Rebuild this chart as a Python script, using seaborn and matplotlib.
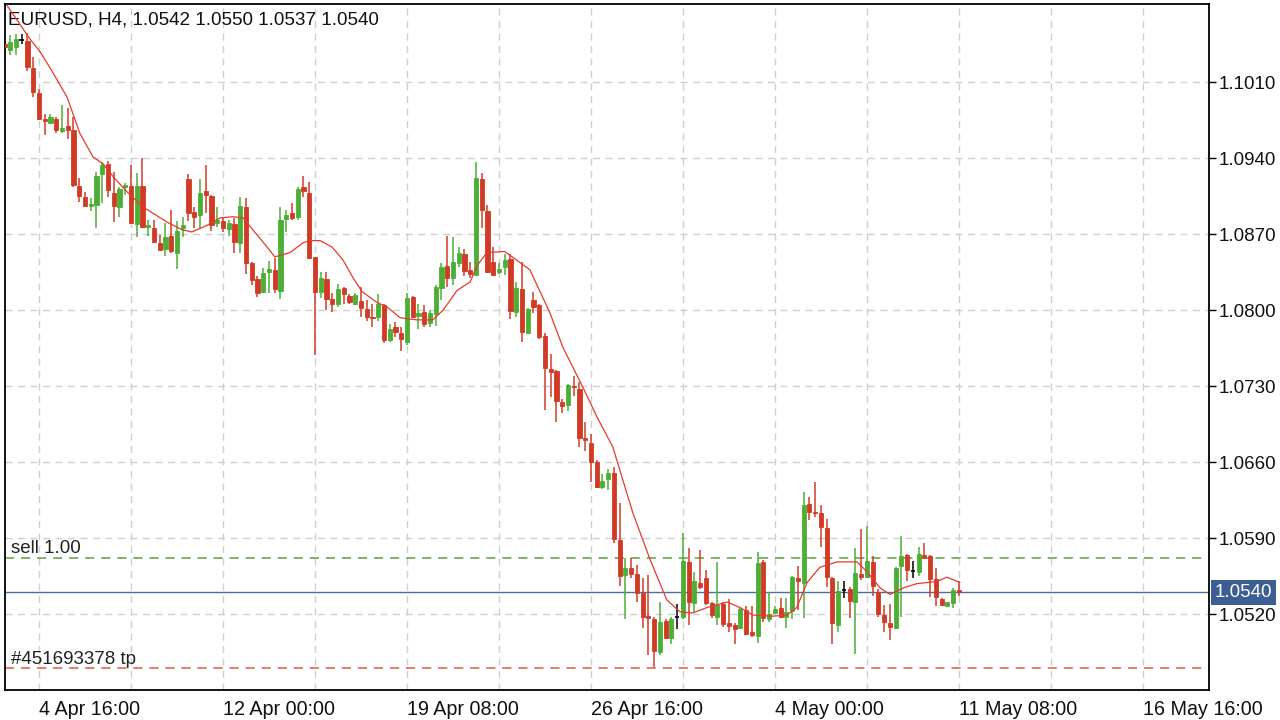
import pandas as pd
import seaborn as sns
import matplotlib.pyplot as plt

# H4 candles (bar index 0 = left edge)
opens = [
    1.1045, 1.1040, 1.1042, 1.1049, 1.1048, 1.1023, 1.1000, 1.0976, 1.0972, 1.0976,
    1.0965, 1.0970, 1.0966, 1.0914, 1.0904, 1.0896, 1.0897, 1.0925, 1.0935, 1.0908,
    1.0895, 1.0913, 1.0914, 1.0879, 1.0914, 1.0877, 1.0876, 1.0862, 1.0856, 1.0868,
    1.0853, 1.0876, 1.0921, 1.0890, 1.0888, 1.0910, 1.0905, 1.0880, 1.0882, 1.0875,
    1.0879, 1.0862, 1.0895, 1.0843, 1.0829, 1.0817, 1.0835, 1.0837, 1.0818, 1.0884,
    1.0889, 1.0886, 1.0913, 1.0908, 1.0849, 1.0817, 1.0829, 1.0810, 1.0806, 1.0820,
    1.0813, 1.0806, 1.0808, 1.0801, 1.0794, 1.0794, 1.0805, 1.0772, 1.0784, 1.0779,
    1.0771, 1.0812, 1.0795, 1.0798, 1.0788, 1.0796, 1.0820, 1.0841, 1.0830, 1.0843,
    1.0852, 1.0837, 1.0832, 1.0921, 1.0891, 1.0844, 1.0835, 1.0840, 1.0847, 1.0798,
    1.0819, 1.0779, 1.0809, 1.0805, 1.0776, 1.0746, 1.0744, 1.0715, 1.0713, 1.0730,
    1.0727, 1.0682, 1.0678, 1.0660, 1.0637, 1.0644, 1.0650, 1.0588, 1.0556, 1.0562,
    1.0557, 1.0539, 1.0518, 1.0515, 1.0485, 1.0514, 1.0498, 1.0517, 1.0517, 1.0568,
    1.0530, 1.0549, 1.0553, 1.0530, 1.0517, 1.0529, 1.0512, 1.0510, 1.0507, 1.0524,
    1.0503, 1.0500, 1.0568, 1.0515, 1.0521, 1.0526, 1.0517, 1.0523, 1.0553, 1.0549,
    1.0621, 1.0614, 1.0613, 1.0599, 1.0553, 1.0510, 1.0542, 1.0543, 1.0531, 1.0557,
    1.0554, 1.0568, 1.0540, 1.0519, 1.0512, 1.0507, 1.0564, 1.0574, 1.0560, 1.0559,
    1.0574, 1.0573, 1.0552, 1.0534, 1.0527, 1.0530, 1.0542,
]
highs = [
    1.1047, 1.1053, 1.1054, 1.1054, 1.1055, 1.1033, 1.1004, 1.0981, 1.0981, 1.0978,
    1.0989, 1.0986, 1.0978, 1.0922, 1.0909, 1.0903, 1.0927, 1.0936, 1.0937, 1.0927,
    1.0913, 1.0917, 1.0934, 1.0926, 1.0940, 1.0883, 1.0883, 1.0869, 1.0880, 1.0892,
    1.0882, 1.0886, 1.0925, 1.0895, 1.0921, 1.0934, 1.0906, 1.0895, 1.0885, 1.0883,
    1.0885, 1.0904, 1.0903, 1.0844, 1.0831, 1.0839, 1.0845, 1.0848, 1.0895, 1.0892,
    1.0899, 1.0913, 1.0924, 1.0918, 1.0849, 1.0835, 1.0835, 1.0816, 1.0824, 1.0821,
    1.0815, 1.0816, 1.0821, 1.0809, 1.0806, 1.0815, 1.0806, 1.0787, 1.0789, 1.0784,
    1.0816, 1.0813, 1.0806, 1.0805, 1.0800, 1.0823, 1.0843, 1.0868, 1.0867, 1.0858,
    1.0856, 1.0844, 1.0936, 1.0926, 1.0897, 1.0858, 1.0843, 1.0852, 1.0852, 1.0826,
    1.0844, 1.0802, 1.0817, 1.0806, 1.0779, 1.0760, 1.0745, 1.0718, 1.0732, 1.0739,
    1.0734, 1.0697, 1.0686, 1.0662, 1.0649, 1.0654, 1.0655, 1.0622, 1.0572, 1.0572,
    1.0565, 1.0553, 1.0556, 1.0517, 1.0531, 1.0515, 1.0517, 1.0529, 1.0595, 1.0581,
    1.0559, 1.0579, 1.0561, 1.0531, 1.0568, 1.0531, 1.0534, 1.0512, 1.0526, 1.0527,
    1.0527, 1.0577, 1.0570, 1.0540, 1.0527, 1.0535, 1.0535, 1.0555, 1.0564, 1.0632,
    1.0628, 1.0642, 1.0620, 1.0608, 1.0554, 1.0550, 1.0550, 1.0545, 1.0581, 1.0598,
    1.0601, 1.0573, 1.0543, 1.0528, 1.0529, 1.0563, 1.0592, 1.0575, 1.0569, 1.0582,
    1.0585, 1.0574, 1.0562, 1.0535, 1.0531, 1.0544, 1.0550,
]
lows = [
    1.1041, 1.1035, 1.1035, 1.1045, 1.1020, 1.0996, 1.0975, 1.0961, 1.0972, 1.0963,
    1.0963, 1.0958, 1.0913, 1.0900, 1.0895, 1.0891, 1.0876, 1.0899, 1.0904, 1.0881,
    1.0886, 1.0906, 1.0879, 1.0867, 1.0876, 1.0868, 1.0863, 1.0855, 1.0850, 1.0853,
    1.0838, 1.0867, 1.0882, 1.0876, 1.0876, 1.0889, 1.0873, 1.0877, 1.0872, 1.0868,
    1.0853, 1.0853, 1.0833, 1.0823, 1.0812, 1.0816, 1.0816, 1.0816, 1.0810, 1.0872,
    1.0883, 1.0883, 1.0904, 1.0847, 1.0759, 1.0811, 1.0800, 1.0798, 1.0803, 1.0806,
    1.0806, 1.0805, 1.0794, 1.0790, 1.0784, 1.0790, 1.0770, 1.0771, 1.0775, 1.0762,
    1.0768, 1.0793, 1.0783, 1.0784, 1.0784, 1.0785, 1.0809, 1.0821, 1.0823, 1.0840,
    1.0831, 1.0830, 1.0832, 1.0876, 1.0834, 1.0831, 1.0833, 1.0832, 1.0792, 1.0794,
    1.0771, 1.0779, 1.0797, 1.0773, 1.0708, 1.0720, 1.0697, 1.0705, 1.0707, 1.0721,
    1.0674, 1.0670, 1.0642, 1.0636, 1.0635, 1.0634, 1.0585, 1.0546, 1.0515, 1.0553,
    1.0531, 1.0507, 1.0482, 1.0471, 1.0482, 1.0498, 1.0492, 1.0506, 1.0515, 1.0510,
    1.0522, 1.0543, 1.0528, 1.0516, 1.0510, 1.0508, 1.0503, 1.0492, 1.0506, 1.0501,
    1.0499, 1.0493, 1.0513, 1.0513, 1.0520, 1.0516, 1.0507, 1.0515, 1.0524, 1.0516,
    1.0607, 1.0609, 1.0582, 1.0545, 1.0492, 1.0503, 1.0535, 1.0516, 1.0483, 1.0551,
    1.0553, 1.0537, 1.0517, 1.0503, 1.0496, 1.0506, 1.0517, 1.0550, 1.0553, 1.0555,
    1.0572, 1.0536, 1.0527, 1.0527, 1.0527, 1.0526, 1.0537,
]
closes = [
    1.1042, 1.1047, 1.1050, 1.1049, 1.1024, 1.1001, 1.0976, 1.0974, 1.0978, 1.0966,
    1.0968, 1.0966, 1.0915, 1.0905, 1.0896, 1.0898, 1.0924, 1.0934, 1.0911, 1.0896,
    1.0912, 1.0915, 1.0880, 1.0914, 1.0877, 1.0878, 1.0863, 1.0855, 1.0867, 1.0854,
    1.0873, 1.0878, 1.0889, 1.0886, 1.0908, 1.0906, 1.0878, 1.0883, 1.0876, 1.0880,
    1.0863, 1.0896, 1.0843, 1.0828, 1.0816, 1.0834, 1.0838, 1.0819, 1.0883, 1.0888,
    1.0885, 1.0912, 1.0910, 1.0848, 1.0817, 1.0830, 1.0810, 1.0806, 1.0819, 1.0815,
    1.0807, 1.0814, 1.0802, 1.0794, 1.0793, 1.0806, 1.0772, 1.0783, 1.0780, 1.0773,
    1.0811, 1.0794, 1.0797, 1.0787, 1.0797, 1.0821, 1.0840, 1.0830, 1.0844, 1.0853,
    1.0836, 1.0833, 1.0922, 1.0892, 1.0835, 1.0832, 1.0838, 1.0846, 1.0799, 1.0820,
    1.0780, 1.0801, 1.0803, 1.0775, 1.0747, 1.0743, 1.0716, 1.0712, 1.0731, 1.0729,
    1.0682, 1.0680, 1.0660, 1.0637, 1.0643, 1.0650, 1.0589, 1.0555, 1.0562, 1.0557,
    1.0539, 1.0517, 1.0516, 1.0486, 1.0513, 1.0498, 1.0515, 1.0517, 1.0569, 1.0531,
    1.0550, 1.0545, 1.0530, 1.0519, 1.0528, 1.0511, 1.0509, 1.0506, 1.0525, 1.0502,
    1.0501, 1.0567, 1.0516, 1.0520, 1.0525, 1.0517, 1.0522, 1.0554, 1.0550, 1.0620,
    1.0614, 1.0613, 1.0600, 1.0554, 1.0512, 1.0541, 1.0542, 1.0532, 1.0558, 1.0554,
    1.0569, 1.0546, 1.0520, 1.0513, 1.0508, 1.0562, 1.0573, 1.0561, 1.0560, 1.0575,
    1.0572, 1.0552, 1.0536, 1.0528, 1.0531, 1.0542, 1.0540,
]

# moving average line, sampled along the red curve
ma_pos = [0.4, 4.4, 6.2, 8.4, 10.9, 11.7, 13.1, 15.4, 17.1, 18.9, 21.3, 24.1, 28.3,
          30.9, 32.6, 35.2, 37.5, 39.7, 41.5, 43.2, 45.7, 47.0, 49.7, 51.9, 53.1,
          54.9, 57.0, 58.9, 60.6, 62.2, 64.8, 66.5, 68.8, 71.7, 74.5, 76.3, 78.7,
          81.0, 82.2, 83.9, 87.0, 89.1, 91.4, 94.9, 97.1, 100.6, 103.1, 105.8,
          109.3, 112.3, 115.2, 117.5, 119.7, 122.2, 125.7, 127.9, 130.2, 133.6,
          136.1, 137.8, 139.6, 141.8, 144.8, 148.3, 150.0, 152.3, 154.0, 156.3,
          158.7, 162.2, 163.9, 166.2]
ma_val = [1.1081, 1.1050, 1.1038, 1.1019, 1.0996, 1.0984, 1.0963, 1.0941, 1.0935,
          1.0923, 1.0909, 1.0895, 1.0881, 1.0874, 1.0872, 1.0878, 1.0885, 1.0886,
          1.0885, 1.0874, 1.0858, 1.0849, 1.0853, 1.0862, 1.0864, 1.0864, 1.0858,
          1.0846, 1.0830, 1.0817, 1.0807, 1.0803, 1.0793, 1.0791, 1.0791, 1.0800,
          1.0818, 1.0826, 1.0841, 1.0853, 1.0854, 1.0846, 1.0837, 1.0797, 1.0766,
          1.0729, 1.0701, 1.0674, 1.0613, 1.0570, 1.0533, 1.0522, 1.0521, 1.0526,
          1.0531, 1.0526, 1.0519, 1.0518, 1.0519, 1.0526, 1.0549, 1.0563, 1.0568,
          1.0568, 1.0559, 1.0544, 1.0538, 1.0544, 1.0548, 1.0550, 1.0554, 1.0549]

tick_pos = [6, 38, 70, 102, 134, 166, 198]
tick_labels = ["4 Apr 16:00", "12 Apr 00:00", "19 Apr 08:00", "26 Apr 16:00",
               "4 May 00:00", "11 May 08:00", "16 May 16:00"]
price_ticks = [1.1010, 1.0940, 1.0870, 1.0800, 1.0730, 1.0660, 1.0590, 1.0520]

last_price = 1.0540
sell_price = 1.0572
tp_price = 1.0470
title = "EURUSD, H4, 1.0542 1.0550 1.0537 1.0540"

GREEN = "#4caf35"
RED = "#d13b26"

df = pd.DataFrame({"open": opens, "high": highs, "low": lows, "close": closes})
df["pos"] = range(len(df))
df["color"] = [GREEN if c > o else (RED if c < o else "black")
               for o, c in zip(df["open"], df["close"])]

sns.set_style("white")
plt.rcParams["font.family"] = ["Liberation Sans", "DejaVu Sans"]

fig = plt.figure(figsize=(12.8, 7.2), dpi=100)
ax = fig.add_axes([5 / 1280, 30 / 720, 1204 / 1280, 686 / 720])

# wicks
ax.vlines(df["pos"], df["low"], df["high"], colors=df["color"], linewidth=1.1, zorder=2)

# bodies
body = df[df["open"] != df["close"]]
ax.bar(body["pos"], (body["close"] - body["open"]).abs(),
       bottom=body[["open", "close"]].min(axis=1), width=0.72,
       color=body["color"], edgecolor=body["color"], linewidth=0.6, zorder=3)
doji = df[df["open"] == df["close"]]
ax.hlines(doji["open"], doji["pos"] - 0.4, doji["pos"] + 0.4, colors="black",
          linewidth=1.2, zorder=3)

# moving average
sns.lineplot(x=ma_pos, y=ma_val, ax=ax, color="#e8392c", linewidth=0.9,
             sort=False, estimator=None, zorder=4)

# order / price lines
ax.axhline(sell_price, color="#5e9f3c", linewidth=1.1, linestyle=(0, (6, 4.5)), zorder=1)
ax.axhline(tp_price, color="#e15a34", linewidth=1.1, linestyle=(0, (6, 4.5)), zorder=1)
ax.axhline(last_price, color="#4d6d9e", linewidth=1.0, zorder=1)

ax.annotate("sell 1.00", xy=(0, sell_price), xycoords=("axes fraction", "data"),
            xytext=(4, 3), textcoords="offset points", ha="left", va="baseline",
            fontsize=13.5, color="#222222")
ax.annotate("#451693378 tp", xy=(0, tp_price), xycoords=("axes fraction", "data"),
            xytext=(4, 3), textcoords="offset points", ha="left", va="baseline",
            fontsize=13.5, color="#222222")
ax.annotate(f"{last_price:.4f}", xy=(1, last_price), xycoords=("axes fraction", "data"),
            xytext=(4, 0), textcoords="offset points", ha="left", va="center",
            fontsize=13.5, color="white", annotation_clip=False,
            bbox=dict(boxstyle="square,pad=0.2", fc="#3c5e93", ec="none"))

ax.text(0.0025, 0.9694, title, transform=ax.transAxes, ha="left", va="baseline",
        fontsize=13.6, color="#111111")

# axes
ax.set_xlim(0.09, 209.5)
ax.set_ylim(1.0450, 1.1082)
ax.yaxis.tick_right()
ax.set_yticks(price_ticks)
ax.set_yticklabels([f"{p:.4f}" for p in price_ticks])
ax.set_xticks(tick_pos)
ax.set_xticklabels(tick_labels, ha="left")
ax.set_xticks([p + 16 for p in tick_pos if p + 16 < 209], minor=True)
ax.tick_params(axis="y", which="major", direction="out", length=5, width=1,
               pad=2, labelsize=13.5, colors="black", labelcolor="#111111")
ax.tick_params(axis="x", which="major", direction="out", length=4, width=1,
               pad=3, labelsize=14.2, colors="black", labelcolor="#111111")
ax.tick_params(axis="x", which="minor", length=0)
ax.set_xlabel("")
ax.set_ylabel("")

grid_kw = dict(color="#cfcfcf", linewidth=1.0, linestyle=(0, (5, 4)))
ax.grid(True, axis="x", which="both", **grid_kw)
ax.grid(True, axis="y", which="major", **grid_kw)
ax.set_axisbelow(True)

for side in ["left", "right", "top", "bottom"]:
    ax.spines[side].set_visible(True)
    ax.spines[side].set_color("black")
    ax.spines[side].set_linewidth(1.3)

fig.savefig("out.png", dpi=100, facecolor="white")
